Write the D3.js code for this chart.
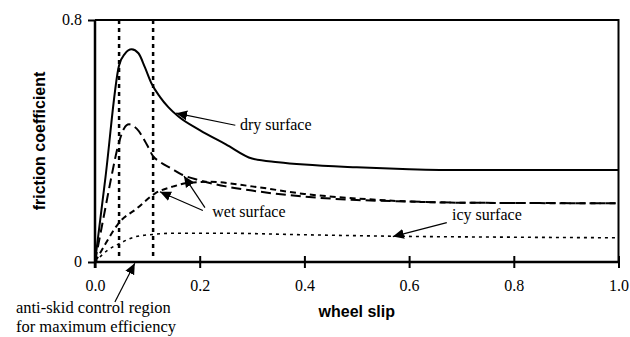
<!DOCTYPE html>
<html>
<head>
<meta charset="utf-8">
<script src="https://cdn.jsdelivr.net/npm/d3@7"></script>
<style>
  body { margin: 0; background: #fff; }
  svg text { fill: #000; }
</style>
</head>
<body>
<div class="chart"></div>
<script>
var svgWidth = 630;
var svgHeight = 337;

var serifFont = "Liberation Serif";
var sansFont = "Liberation Sans";

var margin = { top: 20, right: 11.5, bottom: 75, left: 95 };
var width = svgWidth - margin.left - margin.right;
var height = svgHeight - margin.top - margin.bottom;

// data: [wheel slip, friction coefficient]
var drySurface = [[0, 0], [0.02, 0.28], [0.046, 0.65], [0.057, 0.688], [0.07, 0.703], [0.083, 0.69],
  [0.095, 0.645], [0.108, 0.59], [0.124, 0.546], [0.14, 0.512], [0.16, 0.48], [0.2, 0.436],
  [0.25, 0.389], [0.3, 0.342], [0.35, 0.33], [0.4, 0.322], [0.5, 0.313], [0.6, 0.307],
  [0.7, 0.304], [1.0, 0.304]];
var wetSurfaceA = [[0, 0], [0.02, 0.18], [0.03, 0.27], [0.045, 0.39], [0.055, 0.44], [0.065, 0.455],
  [0.08, 0.44], [0.1, 0.385], [0.11, 0.352], [0.125, 0.33], [0.145, 0.31], [0.165, 0.29],
  [0.2, 0.27], [0.25, 0.25], [0.3, 0.236], [0.4, 0.216], [0.5, 0.205], [0.6, 0.2],
  [0.7, 0.196], [0.85, 0.195], [1.0, 0.194]];
var wetSurfaceB = [[0, 0], [0.02, 0.06], [0.045, 0.128], [0.08, 0.177], [0.115, 0.227], [0.15, 0.25],
  [0.18, 0.262], [0.22, 0.265], [0.3, 0.25], [0.4, 0.225], [0.5, 0.21], [0.6, 0.2],
  [0.7, 0.196], [1.0, 0.194]];
var icySurface = [[0, 0], [0.025, 0.04], [0.048, 0.062], [0.076, 0.083], [0.11, 0.091], [0.15, 0.095],
  [0.25, 0.095], [0.4, 0.09], [0.58, 0.085], [0.8, 0.082], [1.0, 0.08]];

// anti-skid control region bounds (slip)
var controlRegion = [0.046, 0.111];

var xTicks = [0, 0.2, 0.4, 0.6, 0.8, 1.0];
var yTicks = [0, 0.8];

// annotation texts and arrows, in data units
var labels = [
  { text: "dry surface", x: 0.277, y: 0.436, size: 16 },
  { text: "wet surface", x: 0.224, y: 0.149, size: 16 },
  { text: "icy surface", x: 0.682, y: 0.139, size: 16 },
  { text: "anti-skid control region", x: -0.151, y: -0.17, size: 16.5 },
  { text: "for maximum efficiency", x: -0.151, y: -0.233, size: 16.5 }
];
var arrows = [
  { from: [0.268, 0.452], to: [0.155, 0.492] },
  { from: [0.21, 0.18], to: [0.17, 0.284] },
  { from: [0.206, 0.17], to: [0.124, 0.232] },
  { from: [0.672, 0.13], to: [0.569, 0.084] },
  { from: [0.038, -0.132], to: [0.076, -0.004] }
];

var svg = d3.select(".chart")
  .append("svg")
  .attr("width", svgWidth)
  .attr("height", svgHeight);

svg.append("defs").append("marker")
  .attr("id", "head")
  .attr("viewBox", "0 0 10 10")
  .attr("refX", 10)
  .attr("refY", 5)
  .attr("markerWidth", 11)
  .attr("markerHeight", 11)
  .attr("markerUnits", "userSpaceOnUse")
  .attr("orient", "auto")
  .append("path")
  .attr("d", "M0,0.5L10,5L0,9.5Z")
  .attr("fill", "#000");

var chartGroup = svg.append("g")
  .attr("transform", `translate(${margin.left}, ${margin.top})`);

var xLinearScale = d3.scaleLinear().domain([0, 1]).range([0, width]);
var yLinearScale = d3.scaleLinear().domain([0, 0.8]).range([height, 0]);

// frame top and right
chartGroup.append("path")
  .attr("d", `M0,${yLinearScale(0.8)}H${xLinearScale(1)}V${yLinearScale(0)}`)
  .attr("fill", "none")
  .attr("stroke", "#000")
  .attr("stroke-width", 2);

// control region lines
chartGroup.selectAll(".region")
  .data(controlRegion)
  .enter()
  .append("line")
  .attr("x1", d => xLinearScale(d))
  .attr("x2", d => xLinearScale(d))
  .attr("y1", yLinearScale(0.8))
  .attr("y2", yLinearScale(0.02))
  .attr("stroke", "#000")
  .attr("stroke-width", 2.5)
  .attr("stroke-dasharray", "4,4");

var line = d3.line()
  .x(d => xLinearScale(d[0]))
  .y(d => yLinearScale(d[1]))
  .curve(d3.curveMonotoneX);

var series = [
  { data: drySurface, dash: null, w: 2 },
  { data: wetSurfaceA, dash: "10,5", w: 2 },
  { data: wetSurfaceB, dash: "6,4", w: 2 },
  { data: icySurface, dash: "3,4", w: 1.6 }
];

chartGroup.selectAll(".curve")
  .data(series)
  .enter()
  .append("path")
  .attr("d", d => line(d.data))
  .attr("fill", "none")
  .attr("stroke", "#000")
  .attr("stroke-width", d => d.w)
  .attr("stroke-dasharray", d => d.dash);

// axes
var bottomAxis = d3.axisBottom(xLinearScale)
  .tickValues(xTicks)
  .tickFormat(d3.format(".1f"))
  .tickSize(6);
var leftAxis = d3.axisLeft(yLinearScale)
  .tickValues(yTicks)
  .tickFormat(d => d === 0 ? "0" : d3.format(".1f")(d))
  .tickSize(7);

var xg = chartGroup.append("g")
  .attr("transform", `translate(0, ${height})`)
  .call(bottomAxis);
xg.selectAll(".tick line").attr("y1", -6).attr("stroke-width", 2);
xg.selectAll(".tick text")
  .attr("y", 29)
  .attr("dy", 0)
  .style("font-family", serifFont)
  .style("font-size", "16px");
xg.select(".domain").attr("stroke-width", 2.5).attr("d", `M0,0H${width}`);

var yg = chartGroup.append("g").call(leftAxis);
yg.selectAll(".tick line").attr("stroke-width", 2);
yg.selectAll(".tick text")
  .attr("x", -13)
  .attr("dy", "0.3em")
  .style("font-family", serifFont)
  .style("font-size", "16px");
yg.select(".domain").attr("stroke-width", 2.5).attr("d", `M0,${height + 6}V0`);

// annotations
chartGroup.selectAll(".note")
  .data(labels)
  .enter()
  .append("text")
  .attr("class", "note")
  .style("font-family", serifFont)
  .style("font-size", d => d.size + "px")
  .attr("x", d => xLinearScale(d.x))
  .attr("y", d => yLinearScale(d.y))
  .text(d => d.text);

chartGroup.selectAll(".arrow")
  .data(arrows)
  .enter()
  .append("line")
  .attr("x1", d => xLinearScale(d.from[0]))
  .attr("y1", d => yLinearScale(d.from[1]))
  .attr("x2", d => xLinearScale(d.to[0]))
  .attr("y2", d => yLinearScale(d.to[1]))
  .attr("stroke", "#000")
  .attr("stroke-width", 1.2)
  .attr("marker-end", "url(#head)");

// axis labels
chartGroup.append("text")
  .style("font-family", sansFont)
  .style("font-size", "16px")
  .style("font-weight", "bold")
  .attr("transform", `translate(${45 - margin.left}, ${height / 2}) rotate(-90)`)
  .attr("text-anchor", "middle")
  .text("friction coefficient");

chartGroup.append("text")
  .style("font-family", sansFont)
  .style("font-size", "16px")
  .style("font-weight", "bold")
  .attr("transform", `translate(${width / 2}, ${height + 55})`)
  .attr("text-anchor", "middle")
  .text("wheel slip");
</script>
</body>
</html>
